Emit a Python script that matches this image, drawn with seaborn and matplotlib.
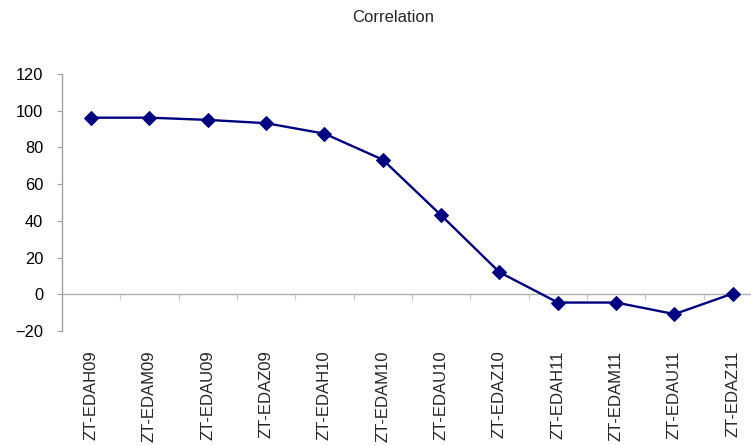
import matplotlib
matplotlib.use("Agg")
import matplotlib.pyplot as plt
import seaborn as sns
import numpy as np
import pandas as pd

categories = ["ZT-EDAH09", "ZT-EDAM09", "ZT-EDAU09", "ZT-EDAZ09",
              "ZT-EDAH10", "ZT-EDAM10", "ZT-EDAU10", "ZT-EDAZ10",
              "ZT-EDAH11", "ZT-EDAM11", "ZT-EDAU11", "ZT-EDAZ11"]
correlation = [96.2, 96.2, 95.0, 93.2, 87.5, 73.3, 43.0, 12.0, -4.5, -4.5, -10.8, 0.4]
y_ticks = [-20, 0, 20, 40, 60, 80, 100, 120]

sns.set_style("white")
plt.rcParams['font.family'] = ['Liberation Sans', 'DejaVu Sans']

df = pd.DataFrame({"pos": np.arange(len(categories)), "cat": categories, "val": correlation})

fig = plt.figure(figsize=(7.51, 4.45), dpi=100)
ax = fig.add_axes([62/751, 1 - 331/445, 700/751, (331 - 74)/445])

navy = "#000080"
sns.lineplot(data=df, x="pos", y="val", ax=ax, color=navy, linewidth=1.7,
             marker="D", markersize=7.5, markeredgecolor=navy, sort=False)

ax.set_xlim(-0.5, len(categories) - 0.5)
ax.set_ylim(-20, 120)
ax.set_yticks(y_ticks)
ax.set_xticks(df["pos"])
ax.set_xticklabels(categories, rotation=90, fontsize=12)
ax.tick_params(axis="x", length=0, pad=14)
ax.tick_params(axis="y", length=3.5, color="#a0a0a0", labelsize=11.8, pad=10, left=True)
for lab in ax.get_yticklabels():
    lab.set_color("black")
ax.set_xlabel("")
ax.set_ylabel("")

for s in ["top", "right", "bottom"]:
    ax.spines[s].set_visible(False)
ax.spines["left"].set_color("#a0a0a0")
ax.spines["left"].set_linewidth(1)

# zero line with category boundary ticks
sec = ax.secondary_xaxis(20 / 140)
sec.set_xticks(np.arange(-0.5, len(categories) + 0.5, 1.0))
sec.set_xticklabels([])
sec.tick_params(axis="x", direction="out", length=4, color="#c8c8c8")
sec.spines["bottom"].set_color("#b0b0b0")
sec.spines["bottom"].set_linewidth(1)
for s in ["top", "left", "right"]:
    if s in sec.spines:
        sec.spines[s].set_visible(False)

fig.text(393/751, 1 - 17/445, "Correlation", ha="center", va="center", fontsize=12)

fig.savefig("out.png", dpi=100)
